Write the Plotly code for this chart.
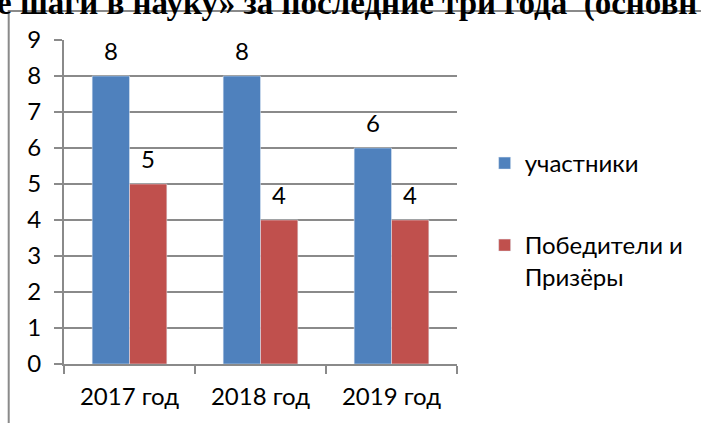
import plotly.graph_objects as go

categories = ["2017 год", "2018 год", "2019 год"]
participants = [8, 8, 6]
winners = [5, 4, 4]
series_names = ["участники", "Победители и<br>Призёры"]
y_ticks = [0, 1, 2, 3, 4, 5, 6, 7, 8, 9]
title_text = "е шаги в науку» за последние три года  (основн"

W, H = 701, 423
L, R, T, B = 64, 701 - 462, 40, 423 - 364
pw, ph = W - L - R, H - T - B

def px(x):
    return (x - L) / pw

def py(y):
    return 1 - (y - T) / ph

font = "Lato, 'Open Sans', sans-serif"
FS = 24
BARGAP = 0.43
GRAY = "#8a8a8a"

fig = go.Figure()
fig.add_trace(go.Bar(x=categories, y=participants, name=series_names[0],
                     marker_color="#4F81BD", legend="legend"))
fig.add_trace(go.Bar(x=categories, y=winners, name=series_names[1],
                     marker_color="#C0504D", legend="legend2"))

# data labels above bars
bar_w = pw / len(categories) * (1 - BARGAP) / 2
for i, vals in enumerate([participants, winners]):
    for c, v in zip(categories, vals):
        fig.add_annotation(x=c, y=v, xref="x", yref="y", text=str(v), showarrow=False,
                           xshift=(i - 0.5) * bar_w, yshift=26, yanchor="middle",
                           font=dict(size=FS, color="black"))

fig.update_layout(
    width=W, height=H,
    margin=dict(l=L, r=R, t=T, b=B),
    plot_bgcolor="white", paper_bgcolor="white",
    barmode="group", bargap=BARGAP, bargroupgap=0,
    font=dict(family=font, size=FS, color="black"),
    showlegend=True,
    legend=dict(x=px(490), y=py(141), xanchor="left", yanchor="top",
                font=dict(size=FS), itemwidth=30, bgcolor="rgba(0,0,0,0)"),
    legend2=dict(x=px(490), y=py(223), xanchor="left", yanchor="top", valign="top",
                 font=dict(size=FS), itemwidth=30, bgcolor="rgba(0,0,0,0)"),
    xaxis=dict(showgrid=False, showline=True, linecolor=GRAY, linewidth=2,
               ticks="outside", ticklen=8, tickcolor=GRAY, tickwidth=2,
               tickson="boundaries", tickfont=dict(size=FS), fixedrange=True,
               ticklabelstandoff=10),
    yaxis=dict(range=[0, 9], tickvals=y_ticks, showgrid=True, gridcolor=GRAY,
               gridwidth=2, showline=True, linecolor=GRAY, linewidth=2,
               ticks="outside", ticklen=8, tickcolor=GRAY, tickwidth=2,
               tickfont=dict(size=FS), zeroline=False, ticklabelstandoff=8,
               fixedrange=True),
)

fig.add_shape(type="rect", xref="paper", yref="paper",
              x0=px(8), x1=px(760), y0=py(480), y1=py(11),
              line=dict(color=GRAY, width=2), layer="below")

fig.add_annotation(text="<b>" + title_text + "</b>", xref="paper", yref="paper",
                   x=px(-6), y=py(24), xanchor="left", yanchor="bottom", showarrow=False,
                   font=dict(family="'Liberation Serif', 'Times New Roman', serif", size=33, color="black"))

fig.write_html("out.html", config={"displayModeBar": False},
               post_script="document.body.style.margin='0';")
